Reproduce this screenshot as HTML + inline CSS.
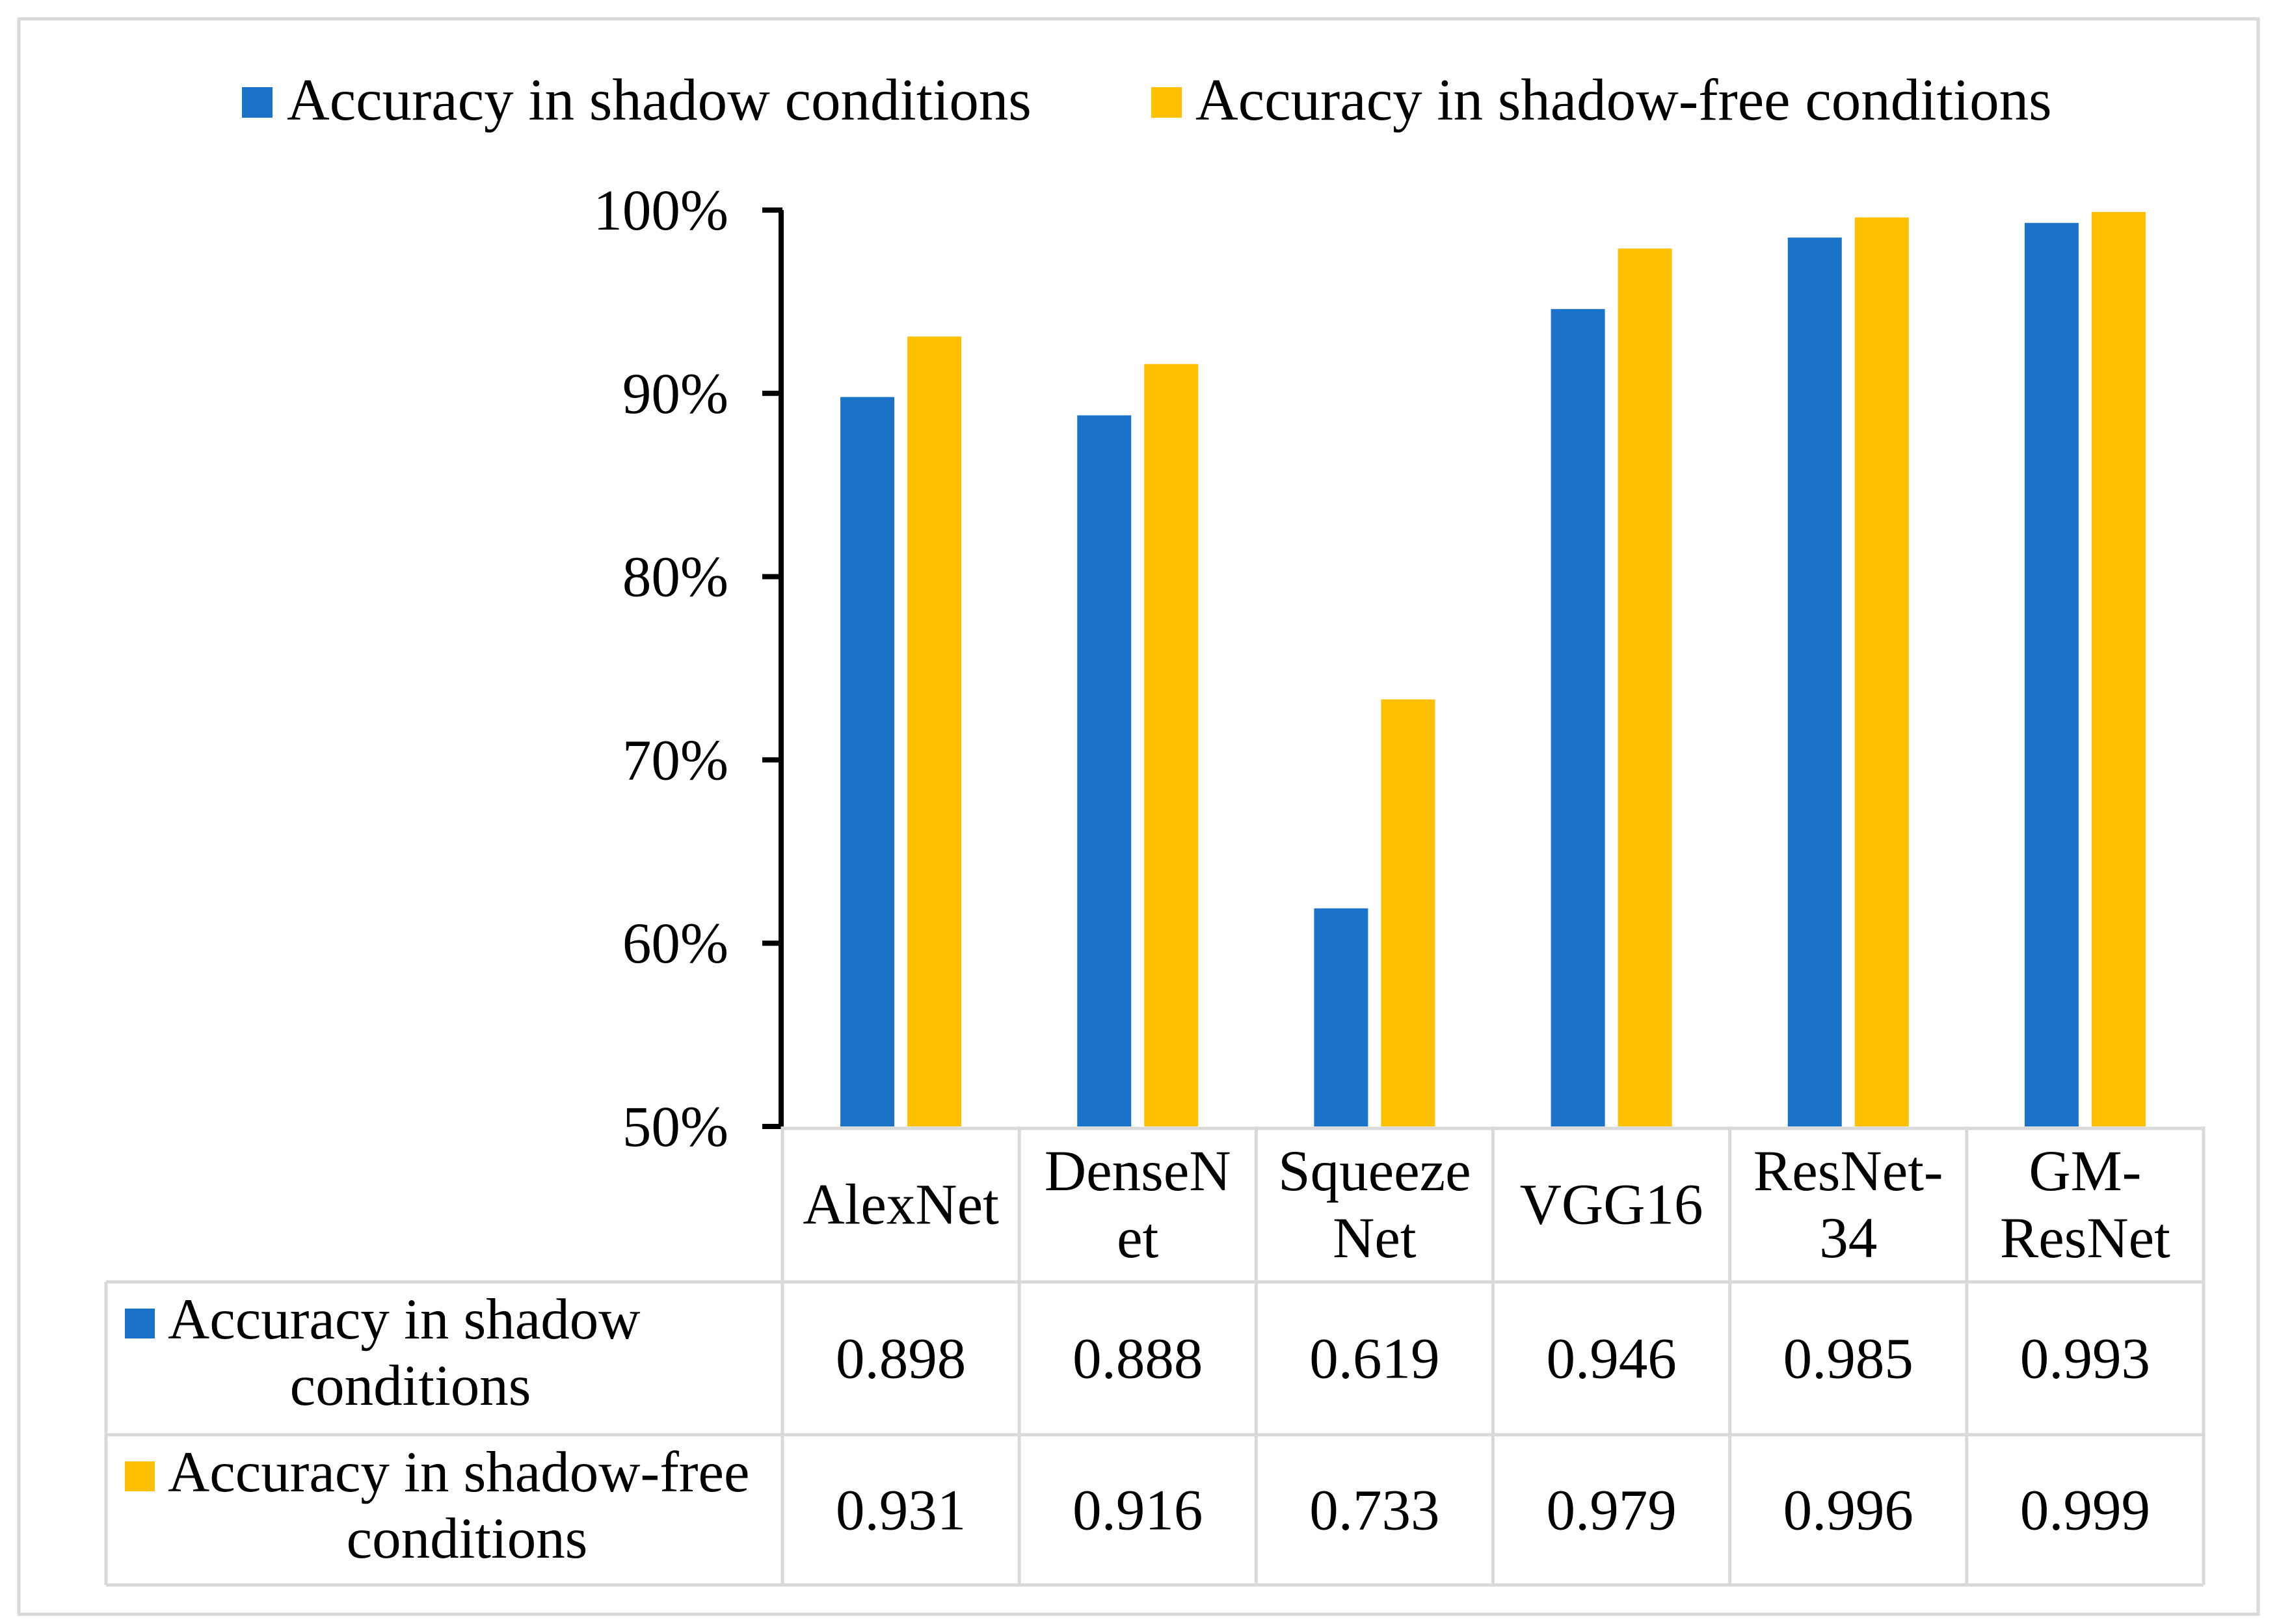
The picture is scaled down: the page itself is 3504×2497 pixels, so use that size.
<!DOCTYPE html>
<html><head><meta charset="utf-8"><style>
html,body{margin:0;padding:0;background:#fff}
svg{display:block}
text{font-family:"Liberation Serif",serif;fill:#000}
</style></head><body>
<svg id="c" width="3504" height="2497" viewBox="0 0 3504 2497" xmlns="http://www.w3.org/2000/svg">
<rect x="29" y="29" width="3443" height="2453" fill="#fff" stroke="#d9d9d9" stroke-width="5"/>
<g id="legend">
<rect x="372" y="134" width="47" height="47" fill="#1a73c9"/>
<text x="441" y="184" font-size="91">Accuracy in shadow conditions</text>
<rect x="1770" y="134" width="47" height="47" fill="#ffc000"/>
<text x="1838" y="184" font-size="91">Accuracy in shadow-free conditions</text>
</g>
<g id="bars"></g>
<g id="axis"></g>
<g id="table"></g>
</svg>
<script>
const categories = [["AlexNet"],["DenseN","et"],["Squeeze","Net"],["VGG16"],["ResNet-","34"],["GM-","ResNet"]];
const shadowValues = [0.898,0.888,0.619,0.946,0.985,0.993];
const shadowFreeValues = [0.931,0.916,0.733,0.979,0.996,0.999];
const shadowLabels = ["0.898","0.888","0.619","0.946","0.985","0.993"];
const shadowFreeLabels = ["0.931","0.916","0.733","0.979","0.996","0.999"];
const yTicks = [0.5,0.6,0.7,0.8,0.9,1.0];
const yTickLabels = ["50%","60%","70%","80%","90%","100%"];

const NS="http://www.w3.org/2000/svg";
const X0=1203, X1=3388, Y0=1732, Y1=323, YMIN=0.5, YMAX=1.0;
const R1=1971, R2=2206, R3=2437;
const catW=(X1-X0)/categories.length;
function yScale(v){return Y0-(v-YMIN)/(YMAX-YMIN)*(Y0-Y1);}
function xCenter(i){return X0+catW*(i+0.5);}
function mk(tag,attrs,parent,txt){const e=document.createElementNS(NS,tag);for(const k in attrs)e.setAttribute(k,attrs[k]);if(txt!==undefined)e.textContent=txt;parent.appendChild(e);return e;}
const bars=document.getElementById('bars'), axis=document.getElementById('axis'), table=document.getElementById('table');
const bw=83, gap=20;
shadowValues.forEach((v,i)=>{
  const r=mk('rect',{x:xCenter(i)-gap/2-bw,y:yScale(v),width:bw,height:Y0-yScale(v),fill:'#1a73c9'},bars);
  
  
});
shadowFreeValues.forEach((v,i)=>{
  const r=mk('rect',{x:xCenter(i)+gap/2,y:yScale(v),width:bw,height:Y0-yScale(v),fill:'#ffc000'},bars);
  
  
});
const gc='#d9d9d9', gw=5;
function ln(x1,y1,x2,y2,name){const l=mk('line',{x1,y1,x2,y2,stroke:gc,'stroke-width':gw},table);
  
  }
ln(X0,Y0+3,X1,Y0+3,'table-line-top');
ln(163,R1,X1,R1,'table-line-row1');
ln(163,R2,X1,R2,'table-line-row2');
ln(163,R3,X1,R3,'table-line-bottom');
ln(163,R1,163,R3,'table-line-left');
for(let i=0;i<=categories.length;i++){ln(X0+catW*i,Y0,X0+catW*i,R3,'table-line-col');}
categories.forEach((c,i)=>{
  const cy=(Y0+R1)/2;
  c.forEach((s,j)=>{
    const y=cy+(j-(c.length-1)/2)*103+30;
    const t=mk('text',{x:xCenter(i),y:y,'font-size':89,'text-anchor':'middle'},table,s);
    
    
  });
});
function rowVals(labels,r0,r1,name){labels.forEach((s,i)=>{
  const t=mk('text',{x:xCenter(i),y:(r0+r1)/2+30,'font-size':89,'text-anchor':'middle'},table,s);
  
  });}
rowVals(shadowLabels,R1,R2,'table-value-shadow');
rowVals(shadowFreeLabels,R2,R3,'table-value-shadow-free');
let k=mk('rect',{x:192,y:2012,width:46,height:46,fill:'#1a73c9'},table);


let t=mk('text',{x:258,y:2058,'font-size':89},table,'Accuracy in shadow');


t=mk('text',{x:631,y:2160,'font-size':89,'text-anchor':'middle'},table,'conditions');


k=mk('rect',{x:192,y:2247,width:46,height:46,fill:'#ffc000'},table);


t=mk('text',{x:258,y:2293,'font-size':89},table,'Accuracy in shadow-free');


t=mk('text',{x:718,y:2395,'font-size':89,'text-anchor':'middle'},table,'conditions');


const ax=mk('line',{x1:X0-2,y1:Y1,x2:X0-2,y2:Y0+4,stroke:'#000','stroke-width':8},axis);


yTicks.forEach((v,i)=>{
  const tk=mk('line',{x1:1172,y1:yScale(v),x2:X0,y2:yScale(v),stroke:'#000','stroke-width':8},axis);
  
  
  const lb=mk('text',{x:1120,y:yScale(v)+30,'font-size':89,'text-anchor':'end'},axis,yTickLabels[i]);
  
  
});
</script>
</body></html>
